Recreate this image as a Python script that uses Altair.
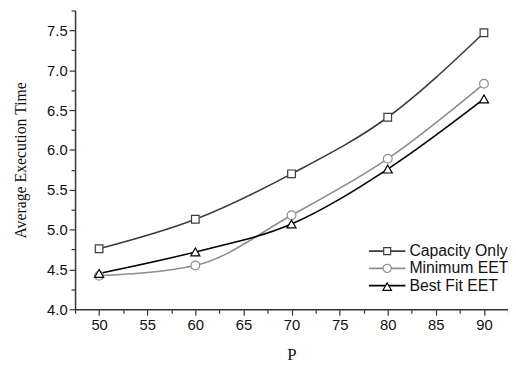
import altair as alt
import pandas as pd

# ---- data ----
p_values = [50, 60, 70, 80, 90]
capacity_only = [4.76, 5.13, 5.70, 6.41, 7.47]
minimum_eet = [4.42, 4.55, 5.18, 5.89, 6.83]
best_fit_eet = [4.45, 4.72, 5.07, 5.76, 6.64]

series_names = ["Capacity Only", "Minimum EET", "Best Fit EET"]
series_colors = ["#3c3c3c", "#8e8e8e", "#000000"]
series_shapes = ["square", "circle", "triangle-up"]
marker_sizes = [60, 80, 85]

x_tick_values = [47.5, 50, 52.5, 55, 57.5, 60, 62.5, 65, 67.5, 70, 72.5, 75,
                 77.5, 80, 82.5, 85, 87.5, 90, 92.5]
y_tick_values = [4.0, 4.25, 4.5, 4.75, 5.0, 5.25, 5.5, 5.75, 6.0, 6.25, 6.5,
                 6.75, 7.0, 7.25, 7.5, 7.75]

rows = []
for name, vals in zip(series_names, [capacity_only, minimum_eet, best_fit_eet]):
    for p, v in zip(p_values, vals):
        rows.append({"P": p, "value": v, "series": name})
df = pd.DataFrame(rows)

label_font = "Liberation Sans"
title_font = "Liberation Serif"

x_axis = alt.Axis(
    values=x_tick_values,
    labelExpr="datum.value % 5 == 0 ? format(datum.value, 'd') : ''",
    labelFont=label_font, labelFontSize=15, labelColor="#111",
    labelOverlap=False, labelPadding=2,
    tickSize={"condition": {"test": "datum.value % 5 == 0", "value": 6}, "value": 4},
    tickColor="#333", tickWidth=1.2,
    domainColor="#333", domainWidth=1.5,
    grid=False,
    title="P", titleFont=title_font, titleFontSize=17, titleFontWeight="normal",
    titleColor="#111", titleX=219.5, titleY=46, titleBaseline="middle",
)
y_axis = alt.Axis(
    values=y_tick_values,
    labelExpr="datum.value % 0.5 == 0 ? format(datum.value, '.1f') : ''",
    labelFont=label_font, labelFontSize=15, labelColor="#111",
    labelOverlap=False, labelPadding=2,
    tickSize={"condition": {"test": "datum.value % 0.5 == 0", "value": 6}, "value": 4},
    tickColor="#333", tickWidth=1.2,
    domainColor="#333", domainWidth=1.5,
    grid=False,
    title="Average Execution Time", titleFont=title_font, titleFontSize=16,
    titleFontWeight="normal", titleColor="#111",
    titleX=-55, titleY=151.5, titleAngle=-90, titleBaseline="middle", titleAlign="center",
)

base = alt.Chart(df).encode(
    x=alt.X("P:Q", scale=alt.Scale(domain=[47.5, 92.5], nice=False, zero=False), axis=x_axis),
    y=alt.Y("value:Q", scale=alt.Scale(domain=[4.0, 7.75], nice=False, zero=False), axis=y_axis),
)

lines = base.mark_line(interpolate="monotone", strokeWidth=1.6).encode(
    color=alt.Color("series:N", scale=alt.Scale(domain=series_names, range=series_colors), legend=None)
)

point_layers = []
for name, shape, col, size in zip(series_names, series_shapes, series_colors, marker_sizes):
    point_layers.append(
        base.transform_filter(alt.datum.series == name).mark_point(
            shape=shape, filled=True, fill="white", stroke=col, strokeWidth=1.2,
            size=size, opacity=1,
        )
    )

# ---- legend (line + marker + label), placed inside the plot's lower right ----
legend_layers = []
legend_row_y = [244, 261.5, 279]
for name, shape, col, size, ry in zip(series_names, series_shapes, series_colors,
                                      marker_sizes, legend_row_y):
    one = alt.Chart(pd.DataFrame({"series": [name]}))
    legend_layers.append(
        one.mark_rule(color=col, strokeWidth=1.6).encode(
            x=alt.value(298), x2=alt.value(335), y=alt.value(ry))
    )
    legend_layers.append(
        one.mark_point(shape=shape, filled=True, fill="white", stroke=col,
                       strokeWidth=1.2, size=size - 10, opacity=1).encode(
            x=alt.value(316.5), y=alt.value(ry + (1 if shape == "triangle-up" else 0)))
    )
    legend_layers.append(
        one.mark_text(align="left", baseline="middle", font=label_font, fontSize=16,
                      color="#111").encode(
            x=alt.value(339), y=alt.value(ry), text="series:N")
    )

chart = alt.layer(lines, *point_layers, *legend_layers).properties(
    width=439, height=303,
    autosize=alt.AutoSizeParams(type="none"),
    padding={"left": 68, "top": 0, "right": 0, "bottom": 55},
    background="white",
).configure_view(stroke=None)

chart.save("out.html", embed_options={"renderer": "svg", "actions": False})
